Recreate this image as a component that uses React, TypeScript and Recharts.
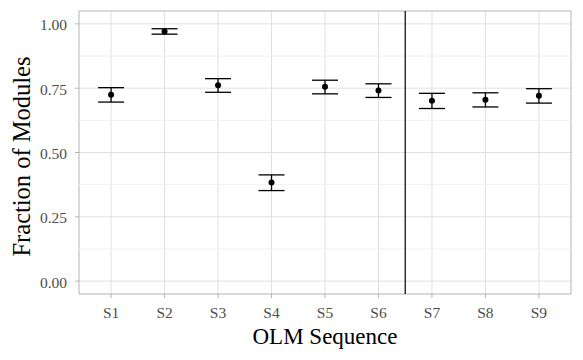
import React from 'react';
import {
  ScatterChart,
  Scatter,
  XAxis,
  YAxis,
  CartesianGrid,
  ErrorBar,
  ReferenceLine,
  ReferenceArea,
  Label
} from 'recharts';

const sequences = ['S1', 'S2', 'S3', 'S4', 'S5', 'S6', 'S7', 'S8', 'S9'];
const fractions = [0.724, 0.970, 0.761, 0.383, 0.756, 0.741, 0.701, 0.705, 0.721];
const lowerCI = [0.696, 0.960, 0.734, 0.352, 0.728, 0.714, 0.671, 0.677, 0.692];
const upperCI = [0.752, 0.981, 0.787, 0.413, 0.781, 0.767, 0.730, 0.732, 0.748];
const yTicks = [0, 0.25, 0.5, 0.75, 1];
const yMinor = [0.125, 0.375, 0.625, 0.875];

const data = sequences.map((s, i) => ({
  idx: i + 1,
  label: s,
  value: fractions[i],
  err: [fractions[i] - lowerCI[i], upperCI[i] - fractions[i]]
}));

const FONT = '"Liberation Serif", serif';

const XTick = (props: any) => {
  const { x, y, payload } = props;
  return (
    <text x={x} y={y + 12} textAnchor="middle" dominantBaseline="central" fill="#4d4d4d" fontSize={15.5} fontFamily={FONT}>
      {sequences[payload.value - 1]}
    </text>
  );
};

const YTick = (props: any) => {
  const { x, y, payload } = props;
  return (
    <text x={x - 2} y={y + 1} textAnchor="end" dominantBaseline="central" fill="#4d4d4d" fontSize={15.5} fontFamily={FONT}>
      {payload.value.toFixed(2)}
    </text>
  );
};

// axis titles placed by hand on the plot box centre
const XTitle = (props: any) => {
  const vb = props.viewBox;
  return (
    <text x={vb.x + vb.width / 2} y={344} textAnchor="middle" fill="#000" fontSize={23} fontFamily={FONT}>
      OLM Sequence
    </text>
  );
};

const YTitle = () => (
  <text transform="translate(30,156.5) rotate(-90)" textAnchor="middle" fill="#000" fontSize={24.5} fontFamily={FONT}>
    Fraction of Modules
  </text>
);

const App: React.FC = () => {
  return (
    <div style={{ position: 'absolute', left: 0, top: 0, background: '#fff', fontFamily: FONT }}>
      <ScatterChart width={583} height={360} margin={{ top: 11, right: 12, left: 0, bottom: 0 }}>
        {yMinor.map((v) => (
          <ReferenceLine key={v} y={v} stroke="#f0f0f0" strokeWidth={1} />
        ))}
        <CartesianGrid
          stroke="#e0e0e0"
          horizontalValues={yTicks}
          verticalValues={[1, 2, 3, 4, 5, 6, 7, 8, 9]}
        />
        <XAxis
          dataKey="idx"
          type="number"
          domain={[0.4, 9.6]}
          ticks={[1, 2, 3, 4, 5, 6, 7, 8, 9]}
          axisLine={false}
          tickLine={{ stroke: '#b3b3b3' }}
          tickSize={4}
          tickMargin={2}
          tick={<XTick />}
          height={66}
          allowDataOverflow
        >
          <Label content={<XTitle />} />
        </XAxis>
        <YAxis
          dataKey="value"
          type="number"
          domain={[-0.05, 1.05]}
          ticks={yTicks}
          axisLine={false}
          tickLine={{ stroke: '#b3b3b3' }}
          tickSize={4}
          tickMargin={6}
          tick={<YTick />}
          width={79}
          allowDataOverflow
        >
          <Label content={<YTitle />} />
        </YAxis>
        <ReferenceArea x1={0.4} x2={9.6} y1={-0.05} y2={1.05} fill="none" stroke="#b3b3b3" strokeWidth={1} ifOverflow="visible" />
        <ReferenceLine x={6.5} stroke="#000" strokeWidth={1.2} />
        <Scatter data={data} fill="#000" isAnimationActive={false} shape={(p: any) => <circle cx={p.cx} cy={p.cy} r={3} fill="#000" />}>
          <ErrorBar dataKey="err" direction="y" width={13} stroke="#000" strokeWidth={1.3} />
        </Scatter>
      </ScatterChart>
    </div>
  );
};

export default App;
